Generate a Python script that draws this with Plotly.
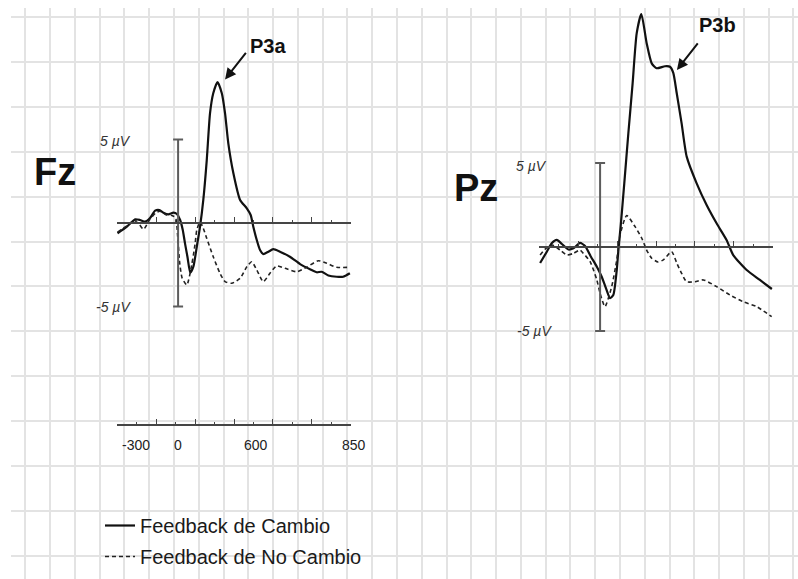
import numpy as np
import plotly.graph_objects as go

W, H = 798, 579
FONT = "Liberation Sans, Arial, sans-serif"

# ---- Grand-average ERP waveforms (time in ms, amplitude in microvolts) ----
fz_cambio_t = [-298, -252, -211, -187, -162, -138, -113, -92, -72, -48, -23, -6, 10, 23, 34, 46,
               60, 75, 92, 108, 124, 141, 157, 173, 194, 215, 231, 247, 272, 305, 338, 357, 370,
               387, 403, 419, 444, 468, 501, 550, 600, 649, 682, 706, 739, 780, 812, 845]
fz_cambio_v = [-0.62, -0.22, 0.22, 0.18, 0.08, 0.30, 0.74, 0.78, 0.62, 0.52, 0.62, 0.54, 0.18,
               -0.42, -1.22, -2.02, -2.98, -2.62, -1.42, -0.22, 1.38, 3.77, 6.57, 7.77, 8.44,
               7.77, 6.57, 4.77, 2.98, 1.38, 0.88, 0.48, -0.22, -1.02, -1.62, -1.86, -1.72,
               -1.57, -1.72, -2.02, -2.46, -2.77, -2.95, -2.92, -3.14, -3.22, -3.22, -3.01]

fz_nocambio_t = [-298, -250, -215, -190, -170, -140, -110, -90, -60, -30, -12, -2, 8, 20, 43,
                 67, 84, 92, 108, 124, 141, 173, 206, 231, 264, 305, 338, 362, 387, 419, 452,
                 485, 526, 583, 632, 689, 731, 780, 845]
fz_nocambio_v = [-0.55, -0.15, 0.15, -0.10, -0.38, 0.20, 0.60, 0.70, 0.50, 0.45, 0.30, -0.80,
                 -2.40, -3.30, -3.71, -2.51, -1.22, -0.42, 0.06, -0.32, -0.92, -2.02, -3.01,
                 -3.51, -3.61, -3.31, -2.62, -2.32, -2.81, -3.51, -3.01, -2.57, -2.71, -2.92,
                 -2.65, -2.26, -2.41, -2.65, -2.65]

pz_cambio_t = [-295, -262, -238, -213, -188, -156, -131, -99, -74, -45, -16, 8, 29, 49, 65, 82,
               90, 101, 119, 139, 160, 180, 203, 229, 254, 278, 319, 344, 360, 377, 401, 426,
               475, 524, 573, 622, 655, 721, 786, 845]
pz_cambio_v = [-0.95, -0.28, 0.22, 0.42, 0.18, -0.15, -0.08, 0.24, 0.06, -0.58, -1.17, -1.77,
               -2.46, -3.05, -2.86, -1.37, -0.18, 1.21, 3.79, 6.77, 9.74, 12.72, 13.87, 12.13,
               10.93, 10.64, 10.76, 10.73, 10.36, 9.15, 7.36, 5.38, 3.79, 2.50, 1.41, 0.42,
               -0.48, -1.37, -1.96, -2.50]

pz_nocambio_t = [-295, -270, -236, -197, -164, -131, -99, -82, -49, -16, 0, 24, 57, 82, 98,
                 131, 172, 205, 229, 254, 285, 311, 352, 377, 401, 426, 467, 508, 573, 639,
                 704, 770, 844]
pz_nocambio_v = [-0.48, -0.12, 0.12, -0.18, -0.48, -0.38, -0.18, -0.38, -0.87, -1.96, -2.76,
                 -3.55, -2.36, -0.77, 0.71, 1.87, 1.21, 0.52, -0.18, -0.67, -0.89, -0.77,
                 -0.28, -0.95, -1.57, -2.07, -2.07, -1.96, -2.36, -2.86, -3.26, -3.55, -4.15]

series_names = ["Feedback de Cambio", "Feedback de No Cambio"]
electrodes = ["Fz", "Pz"]
peak_labels = ["P3a", "P3b"]
peak_marks = [(231, 8.6), (378, 10.54)]          # arrow tips (ms, µV)
scale_uv = 5                                     # calibration bar ±5 µV
time_range = [-300, 850]
time_tick_text = ["-300", "0", "600", "850"]
time_tick_at = [-207, 0, 383, 850]

# ---- page geometry (pixels) ----
def fx(p):
    return p / W

def fy(p):
    return 1 - p / H

fz_zero_px, fz_px_per_uv = 223, 16.7
pz_zero_px, pz_px_per_uv = 247, 16.8
fz_yrange = [-(H - fz_zero_px) / fz_px_per_uv, fz_zero_px / fz_px_per_uv]
pz_yrange = [-(H - pz_zero_px) / pz_px_per_uv, pz_zero_px / pz_px_per_uv]

AXIS_C = "#454545"
BAR_C = "#5c5c5c"

fig = go.Figure()

# graph-paper background subplot
fig.add_trace(go.Scatter(x=[None], y=[None], xaxis="x", yaxis="y",
                         showlegend=False, hoverinfo="skip"))

solid = dict(color="#111111", width=2.2, shape="spline", smoothing=0.6)
dashed = dict(color="#222222", width=1.6, dash="4px,3px", shape="spline", smoothing=0.6)

fig.add_trace(go.Scatter(x=fz_cambio_t, y=fz_cambio_v, xaxis="x2", yaxis="y2", mode="lines",
                         line=solid, name=series_names[0], legendgroup="c", hoverinfo="skip"))
fig.add_trace(go.Scatter(x=fz_nocambio_t, y=fz_nocambio_v, xaxis="x2", yaxis="y2", mode="lines",
                         line=dashed, name=series_names[1], legendgroup="nc", hoverinfo="skip"))
fig.add_trace(go.Scatter(x=pz_cambio_t, y=pz_cambio_v, xaxis="x3", yaxis="y3", mode="lines",
                         line=solid, name=series_names[0], legendgroup="c", showlegend=False,
                         hoverinfo="skip"))
fig.add_trace(go.Scatter(x=pz_nocambio_t, y=pz_nocambio_v, xaxis="x3", yaxis="y3", mode="lines",
                         line=dashed, name=series_names[1], legendgroup="nc", showlegend=False,
                         hoverinfo="skip"))

# calibration bars (±5 µV) at stimulus onset
for xa, ya in (("x2", "y2"), ("x3", "y3")):
    fig.add_trace(go.Scatter(x=[0], y=[0], xaxis=xa, yaxis=ya, mode="markers",
                             marker=dict(size=1, color="rgba(0,0,0,0)"),
                             error_y=dict(type="constant", value=scale_uv, width=5,
                                          thickness=2, color=BAR_C),
                             showlegend=False, hoverinfo="skip"))

# separate time scale under the Fz panel
fig.add_trace(go.Scatter(x=[None], y=[None], xaxis="x4", yaxis="y2",
                         showlegend=False, hoverinfo="skip"))

major = list(np.linspace(time_range[0], time_range[1], 7))
minor = list(np.linspace(time_range[0], time_range[1], 13))


def time_axis(domain, pos):
    return dict(domain=domain, range=[time_range[0] - 0.5, time_range[1] + 0.5],
                anchor="free", position=pos, showline=True, linecolor=AXIS_C, linewidth=1.5,
                ticks="inside", tickmode="array", tickvals=major, ticklen=5, tickwidth=1.2,
                tickcolor=AXIS_C, minor=dict(ticks="inside", tickmode="array", tickvals=minor,
                                             ticklen=2.5, tickwidth=1.2, tickcolor=AXIS_C),
                showticklabels=False, showgrid=False, zeroline=False, fixedrange=True)


fz_dom = [fx(117), fx(351)]
pz_dom = [fx(539), fx(773)]
fz_zero = (0 - fz_yrange[0]) / (fz_yrange[1] - fz_yrange[0])
pz_zero = (0 - pz_yrange[0]) / (pz_yrange[1] - pz_yrange[0])

fig.update_layout(
    width=W, height=H,
    margin=dict(l=0, r=0, t=0, b=0),
    paper_bgcolor="white", plot_bgcolor="rgba(0,0,0,0)",
    xaxis=dict(domain=[fx(11), 1], range=[11, W], tick0=25.3, dtick=24.78, showgrid=True,
               gridcolor="#e3e3e3", gridwidth=1.8, zeroline=False, showticklabels=False,
               ticks="", showline=False, fixedrange=True),
    yaxis=dict(domain=[0, fy(8)], range=[H, 8], tick0=17, dtick=44.9, showgrid=True,
               gridcolor="#e3e3e3", gridwidth=1.8, zeroline=False, showticklabels=False,
               ticks="", showline=False, fixedrange=True),
    xaxis2=time_axis(fz_dom, fz_zero),
    xaxis3=time_axis(pz_dom, pz_zero),
    xaxis4=time_axis(fz_dom, fy(425)),
    yaxis2=dict(domain=[0, 1], range=fz_yrange, visible=False, anchor="x2", fixedrange=True),
    yaxis3=dict(domain=[0, 1], range=pz_yrange, visible=False, anchor="x3", fixedrange=True),
    showlegend=True,
    legend=dict(x=fx(100), y=fy(506), xanchor="left", yanchor="top",
                bgcolor="rgba(0,0,0,0)", borderwidth=0, tracegroupgap=2,
                font=dict(family=FONT, size=20, color="#1a1a1a")),
)

ann = []
# electrode names
ann.append(dict(x=fx(55), y=fy(172), xref="paper", yref="paper", text="<b>Fz</b>",
                xanchor="center", yanchor="middle", showarrow=False,
                font=dict(family=FONT, size=38, color="#111")))
ann.append(dict(x=fx(476), y=fy(188), xref="paper", yref="paper", text="<b>Pz</b>",
                xanchor="center", yanchor="middle", showarrow=False,
                font=dict(family=FONT, size=38, color="#111")))

# calibration labels
cal_font = dict(family=FONT, size=14, color="#333")
for xa, ya, dx_top, dy_top, dx_bot in (("x2", "y2", -45, -1, -45), ("x3", "y3", -51, -3, -46)):
    ann.append(dict(x=0, y=scale_uv, xref=xa, yref=ya, text=f"<i>{scale_uv} µV</i>",
                    showarrow=False, xanchor="right", yanchor="middle", xshift=dx_top,
                    yshift=dy_top, font=cal_font))
    ann.append(dict(x=0, y=-scale_uv, xref=xa, yref=ya, text=f"<i>-{scale_uv} µV</i>",
                    showarrow=False, xanchor="right", yanchor="middle", xshift=dx_bot,
                    font=cal_font))

# peak labels with arrows
for (xa, ya), lab, (t, v), (sx, sy) in zip((("x2", "y2"), ("x3", "y3")), peak_labels,
                                           peak_marks, ((43, 33), (41, 45))):
    ann.append(dict(x=t, y=v, xref=xa, yref=ya, text="", showarrow=True, ax=22, ay=-28,
                    arrowhead=2, arrowsize=1.1, arrowwidth=2, arrowcolor="#111"))
    ann.append(dict(x=t, y=v, xref=xa, yref=ya, text=f"<b>{lab}</b>", showarrow=False,
                    xanchor="center", yanchor="middle", xshift=sx, yshift=sy,
                    font=dict(family=FONT, size=20, color="#111")))

# time-scale labels
for i, (txt, t) in enumerate(zip(time_tick_text, time_tick_at)):
    ann.append(dict(x=t, y=fy(445), xref="x4", yref="paper", text=txt, showarrow=False,
                    xanchor="center", yanchor="middle", xshift=3 if i == 3 else 0,
                    font=dict(family=FONT, size=14, color="#222")))

fig.update_layout(annotations=ann)
fig.write_html("out.html")
